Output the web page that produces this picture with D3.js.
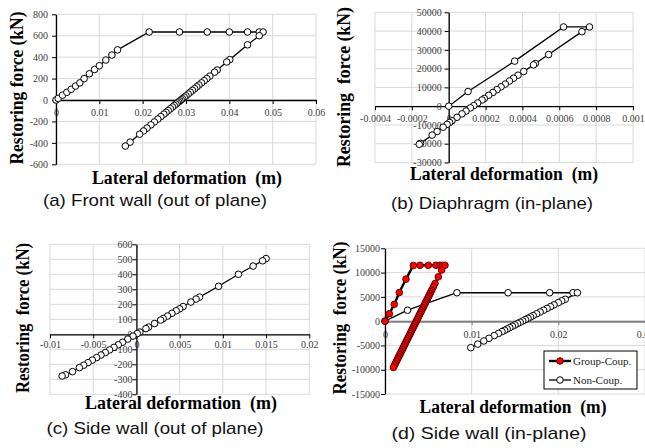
<!DOCTYPE html>
<html>
<head>
<meta charset="utf-8">
<script src="https://cdn.jsdelivr.net/npm/d3@7"></script>
<style>
  body { margin: 0; background: #fff; }
  svg { display: block; }
</style>
</head>
<body>
<svg id="fig" width="645" height="448"></svg>
<script>

// (a) front wall, out of plane
var frontDef = [0, 0.0005, 0.0015, 0.0025, 0.0035, 0.0045, 0.0055, 0.0065, 0.0077, 0.0089, 0.0100, 0.0115, 0.0129, 0.0142,
  0.0215, 0.0285, 0.0349, 0.0400, 0.0442, 0.0469, 0.0478,
  0.0469, 0.0442, 0.0401, 0.0394, 0.0372, 0.0366, 0.0355, 0.0348, 0.0342, 0.0336, 0.0330, 0.0325, 0.0320, 0.0315,
  0.0310, 0.0305, 0.0300, 0.0296, 0.0292, 0.0289, 0.0286, 0.0283, 0.0280, 0.0277, 0.0273, 0.0269, 0.0264, 0.0259,
  0.0254, 0.0249, 0.0242, 0.0235, 0.0227, 0.0219, 0.0210, 0.0202, 0.0193, 0.0171, 0.0160];
var frontForce = [0, 15, 45, 72, 100, 130, 160, 200, 245, 285, 320, 373, 420, 468,
  635, 635, 635, 635, 635, 635, 635,
  600, 515, 377, 355, 280, 260, 223, 200, 180, 160, 140, 123, 106, 90,
  73, 56, 39, 26, 12, 2, -8, -18, -28, -38, -51, -65, -81, -98,
  -115, -132, -155, -178, -205, -232, -262, -289, -319, -393, -430];
var frontXTicks = [0, 0.01, 0.02, 0.03, 0.04, 0.05, 0.06];
var frontYTicks = [-600, -400, -200, 0, 200, 400, 600, 800];

// (b) diaphragm, in plane
var diaDef = [0, 0.000105, 0.000358, 0.000623, 0.000764, 0.000723, 0.000542, 0.00047, 0.00046, 0.000407, 0.000376,
  0.000352, 0.00033, 0.000307, 0.000284, 0.000262, 0.00024, 0.000217, 0.000193, 0.000181, 0.000157, 0.000136,
  0.000118, 0.000094, 0.000072, 0.000045, 0.000018, 0.000005, -0.000009, -0.00003, -0.000063, -0.00009,
  -0.000153, -0.00016];
var diaForce = [0, 7800, 24000, 42200, 42200, 39700, 27500, 22700, 22000, 18500, 16500,
  14900, 13400, 11800, 10300, 8800, 7300, 5800, 4100, 3300, 1700, 300,
  -900, -2600, -4100, -5900, -7800, -8700, -9700, -11200, -13500, -15400,
  -19800, -20300];
var diaXTicks = [-0.0004, -0.0002, 0, 0.0002, 0.0004, 0.0006, 0.0008, 0.001];
var diaYTicks = [-30000, -20000, -10000, 0, 10000, 20000, 30000, 40000, 50000];

// (c) side wall, out of plane
var sideOutDef = [0.0150, 0.0146, 0.0135, 0.0118, 0.0095, 0.0073, 0.0069, 0.0063, 0.0054, 0.0050, 0.0046, 0.0041,
  0.0036, 0.0031, 0.0028, 0.0021, 0.0014, 0.0011, 0.0004, 0.0001, -0.0004, -0.0010, -0.0016, -0.0021, -0.0026,
  -0.0031, -0.0036, -0.0041, -0.0046, -0.0051, -0.0056, -0.0061, -0.0066, -0.0074, -0.0082, -0.0086];
var sideOutForce = [505, 490, 455, 400, 320, 248, 235, 215, 185, 170, 157, 140,
  122, 105, 95, 72, 48, 38, 15, 5, -12, -32, -53, -70, -87,
  -104, -122, -138, -155, -172, -189, -206, -222, -249, -270, -278];
var sideOutXTicks = [-0.01, -0.005, 0, 0.005, 0.01, 0.015, 0.02];
var sideOutYTicks = [-400, -300, -200, -100, 0, 100, 200, 300, 400, 500, 600];

// (d) side wall, in plane
var groupDef = [0, 0.0005, 0.00107, 0.00165, 0.00242, 0.00327, 0.00404, 0.0050, 0.00588, 0.00635, 0.00665, 0.00692,
  0.00654, 0.00615, 0.00577, 0.00558, 0.0054, 0.0053, 0.0052, 0.0051, 0.0050, 0.0049, 0.0048, 0.0047, 0.0046,
  0.0045, 0.0044, 0.0043, 0.0042, 0.0041, 0.0040, 0.0039, 0.0038, 0.0037, 0.0036, 0.0035, 0.0034, 0.0033,
  0.0032, 0.0031, 0.0030, 0.0029, 0.0028, 0.0027, 0.0026, 0.0025, 0.0024, 0.0023, 0.0022, 0.0021, 0.0020,
  0.0019, 0.0018, 0.0017, 0.0016, 0.0015, 0.0014, 0.0013, 0.0012, 0.0011, 0.00097];
var groupForce = [0, 1530, 3460, 5890, 8650, 11470, 11500, 11500, 11500, 11500, 11500, 11500,
  10520, 9120, 7750, 7060, 6420, 6060, 5700, 5340, 4980, 4620, 4260, 3900, 3540,
  3180, 2820, 2460, 2100, 1740, 1380, 1020, 660, 300, -60, -420, -780, -1140,
  -1500, -1860, -2220, -2580, -2940, -3300, -3660, -4020, -4380, -4740, -5100, -5460, -5820,
  -6180, -6540, -6900, -7260, -7620, -7980, -8340, -8700, -9060, -9530];
var nonDef = [0, 0.0026, 0.0083, 0.0142, 0.0190, 0.0217, 0.0222,
  0.0208, 0.0204, 0.0200, 0.0195, 0.0191, 0.0187, 0.0183, 0.0179, 0.0175, 0.0171, 0.0168, 0.0165, 0.0162,
  0.0159, 0.0156, 0.0153, 0.0150, 0.0147, 0.0144, 0.0141, 0.0138, 0.0135, 0.0131, 0.0126, 0.0120, 0.0114,
  0.0107, 0.0099];
var nonForce = [0, 2250, 5850, 5850, 5850, 5850, 5850,
  4500, 4180, 3810, 3350, 2990, 2620, 2250, 1880, 1520, 1150, 870, 600, 320,
  50, -230, -500, -780, -1050, -1330, -1600, -1880, -2150, -2520, -2980, -3530, -4080,
  -4720, -5460];
var sideInXTicks = [0, 0.01, 0.02, 0.03];
var sideInYTicks = [-15000, -10000, -5000, 0, 5000, 10000, 15000];
var legendNames = ["Group-Coup.", "Non-Coup."];

var svg = d3.select("#fig");
var SERIF = "'Liberation Serif', 'Times New Roman', serif";
var SANS = "'Liberation Sans', Arial, sans-serif";

function zip(xs, ys) {
  return xs.map(function(v, i) { return {x: v, y: ys[i]}; });
}

function drawPanel(p) {
  var x = d3.scaleLinear().domain(p.xDomain).range(p.xRange),
      y = d3.scaleLinear().domain(p.yDomain).range(p.yRange);
  var g = svg.append("g");

  // gridlines
  g.selectAll(".vgrid").data(p.xTicks).enter().append("line")
      .attr("x1", function(d) { return x(d); }).attr("x2", function(d) { return x(d); })
      .attr("y1", p.yRange[0]).attr("y2", p.yRange[1])
      .attr("stroke", "#d9d9d9").attr("stroke-width", 1);
  g.selectAll(".hgrid").data(p.yTicks).enter().append("line")
      .attr("y1", function(d) { return y(d); }).attr("y2", function(d) { return y(d); })
      .attr("x1", p.xRange[0]).attr("x2", p.xRange[1])
      .attr("stroke", "#d9d9d9").attr("stroke-width", 1);

  // axes cross at zero
  var xa = g.append("g")
      .attr("transform", "translate(0," + y(0) + ")")
      .call(d3.axisBottom(x).tickValues(p.xTicks).tickSize(4).tickSizeOuter(0)
        .tickPadding(p.xPad).tickFormat(String));
  xa.select(".domain").attr("stroke", p.xAxisColor || "#000").attr("stroke-width", p.xAxisWidth || 1.3);
  xa.selectAll(".tick line").attr("stroke", p.xAxisColor || "#000");

  var ya = g.append("g")
      .attr("transform", "translate(" + x(0) + ",0)")
      .call(d3.axisLeft(y).tickValues(p.yTicks).tickSize(4).tickSizeOuter(0)
        .tickPadding(p.yPad).tickFormat(String));
  ya.select(".domain").attr("stroke", "#000").attr("stroke-width", 1.3);
  ya.selectAll(".tick line").attr("stroke", "#000");

  g.selectAll(".tick text")
      .style("font-family", SERIF).style("font-size", "10px").attr("fill", "#404040");

  var line = d3.line()
      .x(function(d) { return x(d.x); })
      .y(function(d) { return y(d.y); });

  p.series.forEach(function(s) {
    var pts = zip(s.xs, s.ys);
    g.append("path")
        .datum(pts)
        .attr("d", line)
        .attr("fill", "none")
        .attr("stroke", "#000")
        .attr("stroke-width", s.width);
    g.selectAll(null).data(pts).enter().append("circle")
        .attr("cx", function(d) { return x(d.x); })
        .attr("cy", function(d) { return y(d.y); })
        .attr("r", 3.3)
        .attr("fill", s.fill)
        .attr("stroke", s.stroke)
        .attr("stroke-width", 1);
  });

  // titles
  g.append("text")
      .attr("transform", "translate(" + p.yTitle[0] + "," + p.yTitle[1] + ") rotate(-90)")
      .attr("text-anchor", "middle")
      .attr("textLength", p.yTitle[2]).attr("lengthAdjust", "spacingAndGlyphs")
      .style("font-family", SERIF).style("font-size", "18px").style("font-weight", "bold")
      .style("white-space", "pre")
      .text(p.yLabel);
  g.append("text")
      .attr("x", p.xTitle[0]).attr("y", p.xTitle[1])
      .attr("text-anchor", "middle")
      .attr("textLength", p.xTitle[2]).attr("lengthAdjust", "spacingAndGlyphs")
      .style("font-family", SERIF).style("font-size", "18px").style("font-weight", "bold")
      .style("white-space", "pre")
      .text("Lateral deformation  (m)");
  g.append("text")
      .attr("x", p.caption[0]).attr("y", p.caption[1])
      .attr("text-anchor", "middle")
      .attr("textLength", p.caption[2]).attr("lengthAdjust", "spacingAndGlyphs")
      .style("font-family", SANS).style("font-size", "17px").attr("fill", "#111")
      .text(p.captionText);

  return {x: x, y: y, g: g};
}

var plain = {fill: "#fff", stroke: "#000", width: 1.3};

drawPanel({
  xDomain: [0, 0.06], xRange: [56, 316],
  yDomain: [-600, 800], yRange: [164.3, 14.3],
  xTicks: frontXTicks, yTicks: frontYTicks, xPad: 5, yPad: 4,
  series: [Object.assign({xs: frontDef, ys: frontForce}, plain)],
  yLabel: "Restoring force (kN)", yTitle: [23, 88, 153],
  xTitle: [187, 184, 190],
  captionText: "(a) Front wall (out of plane)", caption: [155, 206, 224]
});

drawPanel({
  xDomain: [-0.0004, 0.001], xRange: [375, 633],
  yDomain: [-30000, 50000], yRange: [162.5, 12.3],
  xTicks: diaXTicks, yTicks: diaYTicks, xPad: 4.5, yPad: 3,
  series: [Object.assign({xs: diaDef, ys: diaForce}, plain)],
  yLabel: "Restoring  force (kN)", yTitle: [350, 87, 160],
  xTitle: [504, 180, 188],
  captionText: "(b) Diaphragm (in-plane)", caption: [492, 209, 202]
});

drawPanel({
  xDomain: [-0.01, 0.02], xRange: [50, 309.3],
  yDomain: [-400, 600], yRange: [394.3, 244.3],
  xTicks: sideOutXTicks, yTicks: sideOutYTicks, xPad: 3, yPad: 0,
  series: [Object.assign({xs: sideOutDef, ys: sideOutForce}, plain)],
  yLabel: "Restoring  force (kN)", yTitle: [29, 318, 150],
  xTitle: [181, 409, 192],
  captionText: "(c) Side wall (out of plane)", caption: [155, 434, 217]
});

var panelD = drawPanel({
  xDomain: [0, 0.03], xRange: [385, 645],
  yDomain: [-15000, 15000], yRange: [394, 248.3],
  xTicks: sideInXTicks, yTicks: sideInYTicks, xPad: 6, yPad: 1,
  xAxisColor: "#808080", xAxisWidth: 2,
  series: [
    Object.assign({xs: nonDef, ys: nonForce}, plain),
    {xs: groupDef, ys: groupForce, fill: "#ff0000", stroke: "#6b0000", width: 2.4}
  ],
  yLabel: "Restoring  force (kN)", yTitle: [346, 318, 153],
  xTitle: [513, 413, 187],
  captionText: "(d) Side wall (in-plane)", caption: [489, 439, 195]
});

// legend for (d)
var leg = panelD.g.append("g").attr("transform", "translate(544,351)");
leg.append("rect").attr("width", 93).attr("height", 38)
    .attr("fill", "#fff").attr("stroke", "#000").attr("stroke-width", 1);
var legStyles = [
  {fill: "#ff0000", stroke: "#6b0000", width: 2.4},
  {fill: "#fff", stroke: "#000", width: 1.3}
];
legendNames.forEach(function(name, i) {
  var row = leg.append("g").attr("transform", "translate(0," + (10 + i * 19) + ")");
  row.append("line").attr("x1", 5).attr("x2", 27).attr("stroke", "#000")
      .attr("stroke-width", legStyles[i].width);
  row.append("circle").attr("cx", 16).attr("r", 3.3)
      .attr("fill", legStyles[i].fill).attr("stroke", legStyles[i].stroke);
  row.append("text").attr("x", 29).attr("dy", "0.35em")
      .style("font-family", SERIF).style("font-size", "11px").attr("fill", "#222")
      .text(name);
});

</script>
</body>
</html>
